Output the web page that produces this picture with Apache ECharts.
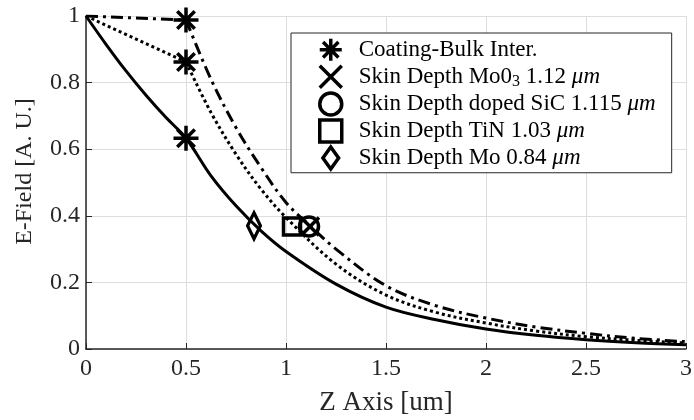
<!DOCTYPE html>
<html>
<head>
<meta charset="utf-8">
<script src="https://cdn.jsdelivr.net/npm/echarts@6/dist/echarts.min.js"></script>
<style>
  html, body { margin: 0; padding: 0; background: #fff; }
  #grafico { width: 694px; height: 420px; }
</style>
</head>
<body>
<div id="grafico"></div>
<script>
// Curva continua (recubrimiento + Mo)
const solidaZ = [0, 0.1, 0.2, 0.3, 0.4, 0.5, 0.625, 0.75, 0.875, 1.0, 1.25, 1.5, 1.75, 2.0, 2.25, 2.5, 2.75, 3.0];
const solidaE = [1, 0.915, 0.835, 0.762, 0.695, 0.633, 0.52, 0.43, 0.355, 0.293, 0.195, 0.126, 0.088, 0.06, 0.041, 0.028, 0.019, 0.013];

// Curva punteada
const punteadaTramoZ = [0, 0.5];
const punteadaTramoE = [1, 0.862];
const punteadaZ = [0.5, 0.625, 0.75, 0.875, 1.0, 1.25, 1.5, 1.75, 2.0, 2.25, 2.5, 2.75, 3.0];
const punteadaE = [0.862, 0.71, 0.585, 0.48, 0.395, 0.255, 0.162, 0.11, 0.078, 0.054, 0.037, 0.026, 0.018];

// Curva raya-punto
const rayaTramoZ = [0, 0.5];
const rayaTramoE = [1, 0.988];
const rayaZ = [0.5, 0.625, 0.75, 0.875, 1.0, 1.12, 1.25, 1.5, 1.75, 2.0, 2.25, 2.5, 2.75, 3.0];
const rayaE = [0.988, 0.81, 0.665, 0.545, 0.44, 0.37, 0.3, 0.19, 0.13, 0.093, 0.066, 0.047, 0.032, 0.022];

// Marcadores
const interfazZ = [0.5, 0.5, 0.5];
const interfazE = [0.988, 0.862, 0.633];
const pielNombres = ['Skin Depth Mo0₃ 1.12 μm', 'Skin Depth doped SiC 1.115 μm', 'Skin Depth TiN 1.03 μm', 'Skin Depth Mo 0.84 μm'];
const pielZ = [1.12, 1.115, 1.03, 0.84];
const pielE = [0.368, 0.368, 0.368, 0.37];

const nombreInterfaz = 'Coating-Bulk Inter.';

const FUENTE = 'Liberation Serif';
const asterisco = 'path://M0,-10 L0,10 M-10,0 L10,0 M-7,-7 L7,7 M-7,7 L7,-7';
const cruz = 'path://M-8,-8 L8,8 M-8,8 L8,-8';
const rombo = 'path://M0,-14 L10,0 L0,14 L-10,0 Z';

const simbolos = [cruz, 'circle', 'rect', rombo];
const tamanos = [18, 19, 17, [18, 26]];

const estiloMarca = { color: 'rgba(0,0,0,0)', borderColor: '#000', borderWidth: 3.5, opacity: 1 };

const zip = (xs, ys) => xs.map((x, i) => [x, ys[i]]);

const linea = (datos, tipo, suave) => ({
  type: 'line',
  data: datos,
  symbol: 'none',
  smooth: suave ? 0.35 : false,
  lineStyle: { color: '#000', width: 3, type: tipo, cap: 'butt' },
  z: 2,
  silent: true
});

const series = [
  linea(zip(solidaZ, solidaE), 'solid', true),
  linea(zip(punteadaTramoZ, punteadaTramoE), [3, 3], false),
  linea(zip(punteadaZ, punteadaE), [3, 3], true),
  linea(zip(rayaTramoZ, rayaTramoE), [12, 5, 3, 5], false),
  linea(zip(rayaZ, rayaE), [12, 5, 3, 5], true),
  {
    type: 'scatter',
    name: nombreInterfaz,
    data: zip(interfazZ, interfazE),
    symbol: asterisco,
    symbolSize: 25,
    symbolKeepAspect: true,
    itemStyle: estiloMarca,
    z: 5
  }
];
pielNombres.forEach((n, i) => {
  series.push({
    type: 'scatter',
    name: n,
    data: [[pielZ[i], pielE[i]]],
    symbol: simbolos[i],
    symbolSize: tamanos[i],
    symbolKeepAspect: true,
    itemStyle: estiloMarca,
    z: 5
  });
});

const etiquetasLeyenda = {
  'Coating-Bulk Inter.': 'Coating-Bulk Inter.',
  'Skin Depth Mo0₃ 1.12 μm': 'Skin Depth Mo0{sub|3} 1.12 {it|μm}',
  'Skin Depth doped SiC 1.115 μm': 'Skin Depth doped SiC 1.115 {it|μm}',
  'Skin Depth TiN 1.03 μm': 'Skin Depth TiN 1.03 {it|μm}',
  'Skin Depth Mo 0.84 μm': 'Skin Depth Mo 0.84 {it|μm}'
};

const iconosLeyenda = [asterisco, cruz, 'circle', 'rect', rombo];
const nombresLeyenda = [nombreInterfaz].concat(pielNombres);

const grafico = echarts.init(document.getElementById('grafico'), null, { renderer: 'canvas' });
grafico.setOption({
  backgroundColor: '#fff',
  animation: false,
  grid: { left: 86, right: 8, top: 16, bottom: 71, outerBoundsMode: 'none', containLabel: false },
  xAxis: {
    type: 'value',
    min: 0, max: 3, interval: 0.5,
    name: 'Z Axis [um]',
    nameLocation: 'middle',
    nameGap: 40,
    nameTextStyle: { fontFamily: FUENTE, fontSize: 27, color: '#262626' },
    axisLine: { show: true, lineStyle: { color: '#262626', width: 1.5 } },
    axisTick: { show: true, inside: true, length: 6, lineStyle: { color: '#262626' } },
    axisLabel: { fontFamily: FUENTE, fontSize: 24, color: '#262626', margin: 8 },
    splitLine: { show: true, lineStyle: { color: '#dedede', width: 1 } }
  },
  yAxis: {
    type: 'value',
    min: 0, max: 1, interval: 0.2,
    name: 'E-Field [A. U.]',
    nameLocation: 'middle',
    nameGap: 49,
    nameTextStyle: { fontFamily: FUENTE, fontSize: 24, color: '#262626', padding: [0, 0, 0, 22] },
    axisLine: { show: true, lineStyle: { color: '#262626', width: 1.5 } },
    axisTick: { show: true, inside: true, length: 6, lineStyle: { color: '#262626' } },
    axisLabel: { fontFamily: FUENTE, fontSize: 24, color: '#262626', margin: 6 },
    splitLine: { show: true, lineStyle: { color: '#dedede', width: 1 } }
  },
  legend: {
    orient: 'vertical',
    left: 291,
    top: 33,
    padding: [4, 16, 2, 27],
    itemGap: 1.5,
    itemWidth: 22,
    itemHeight: 22,
    backgroundColor: '#fff',
    borderColor: '#262626',
    borderWidth: 1,
    borderRadius: 0,
    selectedMode: false,
    data: nombresLeyenda.map((n, i) => ({ name: n, icon: iconosLeyenda[i], itemStyle: estiloMarca })),
    formatter: n => etiquetasLeyenda[n],
    textStyle: {
      fontFamily: FUENTE, fontSize: 23, color: '#000',
      padding: [0, 0, 0, 12],
      rich: {
        sub: { fontFamily: FUENTE, fontSize: 16, color: '#000', verticalAlign: 'bottom', padding: [10, 0, 0, 0] },
        it: { fontFamily: FUENTE, fontSize: 23, fontStyle: 'italic', color: '#000' }
      }
    }
  },
  series: series
});
</script>
</body>
</html>
